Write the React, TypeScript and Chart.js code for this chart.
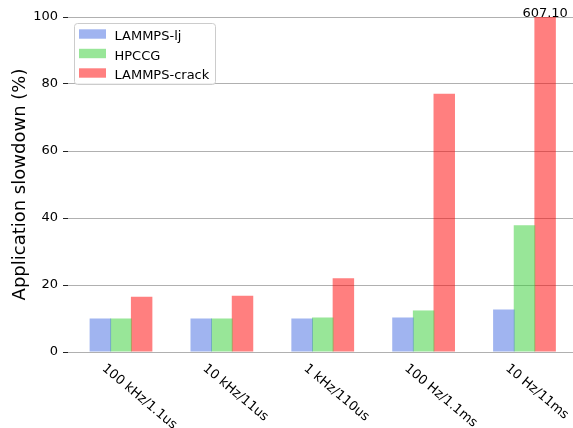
import React, { useEffect, useRef } from 'react';
import { Chart, registerables } from 'chart.js';

Chart.register(...registerables);

const categories = ['100 kHz/1.1us', '10 kHz/11us', '1 kHz/110us', '100 Hz/1.1ms', '10 Hz/11ms'];
const seriesNames = ['LAMMPS-lj', 'HPCCG', 'LAMMPS-crack'];
const lammpsLj = [10.0, 10.0, 10.0, 10.3, 12.7];
const hpccg = [10.0, 10.0, 10.3, 12.4, 37.8];
const lammpsCrack = [16.5, 16.8, 22.0, 77.1, 607.1];
const yMin = 0;
const yMax = 100;
const yStep = 20;
const yTitle = 'Application slowdown (%)';
const seriesColors = ['rgba(65,105,225,0.5)', 'rgba(50,205,50,0.5)', 'rgba(255,0,0,0.5)'];

const FONT = '"DejaVu Sans", sans-serif';

const overlayPlugin = {
  id: 'overlay',
  afterDraw(chart: any) {
    const ctx = chart.ctx;
    const area = chart.chartArea;
    const xs = chart.scales.x;
    ctx.save();
    // x category labels, rotated clockwise
    ctx.font = `13px ${FONT}`;
    ctx.fillStyle = '#000';
    ctx.textAlign = 'left';
    ctx.textBaseline = 'alphabetic';
    categories.forEach((c, i) => {
      const px = xs.getPixelForValue(i);
      ctx.save();
      ctx.translate(px - 19.5, area.bottom + 17.5);
      ctx.rotate((40 * Math.PI) / 180);
      ctx.fillText(c, 0, 0);
      ctx.restore();
    });
    // annotate clipped bars
    ctx.textAlign = 'center';
    chart.data.datasets.forEach((ds: any, di: number) => {
      const meta = chart.getDatasetMeta(di);
      ds.data.forEach((pt: any, i: number) => {
        if (pt.y > yMax) {
          const el = meta.data[i];
          ctx.fillText(pt.y.toFixed(2), el.x, area.top);
        }
      });
    });
    // legend
    const lx = 74.5, ly = 23.5, lw = 141, lh = 61;
    ctx.fillStyle = 'rgba(255,255,255,0.8)';
    ctx.strokeStyle = '#cccccc';
    ctx.lineWidth = 1;
    ctx.beginPath();
    ctx.roundRect(lx, ly, lw, lh, 3);
    ctx.fill();
    ctx.stroke();
    chart.data.datasets.forEach((ds: any, di: number) => {
      const cy = 34 + di * 19.5;
      ctx.fillStyle = ds.backgroundColor;
      ctx.fillRect(79, cy - 4.7, 27, 9.4);
      ctx.fillStyle = '#000';
      ctx.textAlign = 'left';
      ctx.textBaseline = 'alphabetic';
      ctx.font = `13px ${FONT}`;
      ctx.fillText(ds.label, 114.5, cy + 6.3);
    });
    ctx.restore();
  },
};

export default function App() {
  const canvasRef = useRef<HTMLCanvasElement | null>(null);

  useEffect(() => {
    const canvas = canvasRef.current;
    if (!canvas) return;
    const seriesValues = [lammpsLj, hpccg, lammpsCrack];
    const chart = new Chart(canvas, {
      type: 'bar',
      data: {
        datasets: seriesNames.map((name, si) => ({
          label: name,
          data: seriesValues[si].map((v, i) => ({ x: i, y: v })),
          backgroundColor: seriesColors[si],
          borderWidth: 0,
          categoryPercentage: 0.614,
          barPercentage: 1.04,
        })),
      },
      options: {
        responsive: false,
        animation: false,
        events: [],
        layout: { padding: { top: 17, left: 0, right: 0, bottom: 0 } },
        plugins: {
          legend: { display: false },
          tooltip: { enabled: false },
          title: { display: false },
        },
        scales: {
          x: {
            type: 'linear',
            offset: false,
            min: -0.5254,
            max: 4.481,
            ticks: { display: false, stepSize: 1, includeBounds: false },
            grid: { display: false },
            border: { display: false },
            afterFit: (scale: any) => {
              scale.height = 76;
            },
          },
          y: {
            min: yMin,
            max: yMax,
            ticks: {
              stepSize: yStep,
              color: '#000',
              padding: 5,
              font: { family: FONT, size: 13 },
            },
            grid: {
              color: '#b0b0b0',
              lineWidth: 1,
              tickColor: '#222',
              tickLength: 5,
              tickWidth: 1,
            },
            border: { display: false },
            title: {
              display: true,
              text: yTitle,
              color: '#000',
              font: { family: FONT, size: 18 },
              padding: { top: 10, bottom: 0 },
            },
            afterFit: (scale: any) => {
              scale.width = 68;
            },
          },
        },
      },
      plugins: [overlayPlugin],
    } as any);
    return () => chart.destroy();
  }, []);

  return (
    <div style={{ position: 'absolute', left: 0, top: 0, width: 573, height: 428, overflow: 'hidden', background: '#fff' }}>
      <canvas ref={canvasRef} width={573} height={428} style={{ display: 'block' }} />
    </div>
  );
}
